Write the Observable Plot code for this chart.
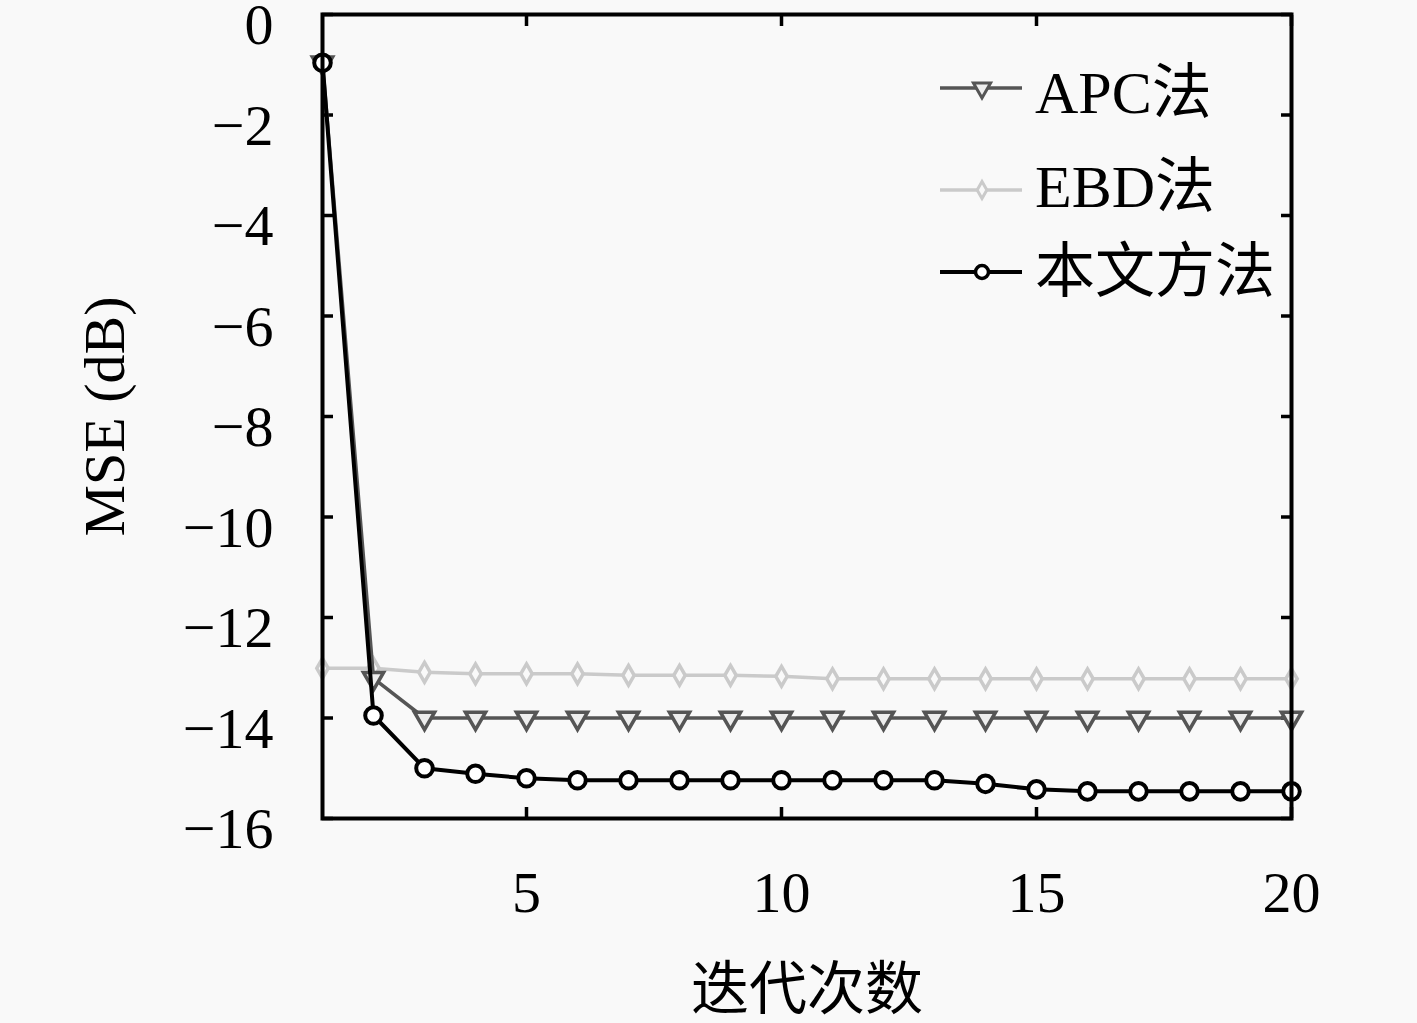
<!DOCTYPE html>
<html><head><meta charset="utf-8">
<script src="https://cdn.jsdelivr.net/npm/d3@7"></script>
<script src="https://cdn.jsdelivr.net/npm/@observablehq/plot@0.6"></script>
<style>
html,body{margin:0;padding:0;background:#f9f9f9;}
svg{display:block;}
</style></head><body><div id="chart"></div>
<script>
// ---- data ----
const iterations = [1,2,3,4,5,6,7,8,9,10,11,12,13,14,15,16,17,18,19,20];
const apc = [-0.96,-13.21,-14.0,-14.0,-14.0,-14.0,-14.0,-14.0,-14.0,-14.0,-14.0,-14.0,-14.0,-14.0,-14.0,-14.0,-14.0,-14.0,-14.0,-14.0];
const ebd = [-13.01,-13.01,-13.09,-13.12,-13.12,-13.12,-13.15,-13.15,-13.15,-13.17,-13.22,-13.22,-13.22,-13.22,-13.22,-13.22,-13.22,-13.22,-13.22,-13.22];
const proposed = [-0.96,-13.95,-15.0,-15.11,-15.2,-15.24,-15.24,-15.24,-15.24,-15.24,-15.24,-15.24,-15.24,-15.31,-15.42,-15.46,-15.46,-15.46,-15.46,-15.46];
const seriesNames = ["APC法","EBD法","本文方法"];
const xTicks = [5,10,15,20];
const yTicks = [0,-2,-4,-6,-8,-10,-12,-14,-16];
const xLabel = "迭代次数";
const yLabel = "MSE (dB)";

// ---- styles ----
const FONT = "'Liberation Serif','DejaVu Serif','Noto Sans CJK SC',serif";
const series = [
  {name: seriesNames[0], values: apc, stroke: "#555555", fill: "#eeeeee", symbol: "triangle", rotate: 180, r: 7.5, sw: 3.5},
  {name: seriesNames[1], values: ebd, stroke: "#cacaca", fill: "#f9f9f9", symbol: "diamond", rotate: 0, r: 6, sw: 3.5},
  {name: seriesNames[2], values: proposed, stroke: "#000000", fill: "#ffffff", symbol: "circle", rotate: 0, r: 8.3, sw: 4}
];
const drawOrder = [1, 0, 2];

const marks = [];
for (const i of drawOrder) {
  const s = series[i];
  marks.push(Plot.line(s.values, {x: (d, j) => iterations[j], y: d => d, stroke: s.stroke, strokeWidth: s.sw}));
  marks.push(Plot.dot(s.values, {x: (d, j) => iterations[j], y: d => d, symbol: s.symbol, rotate: s.rotate, r: s.r, stroke: s.stroke, fill: s.fill, strokeWidth: s.sw}));
}

const blank = () => "";
const fmt = d3.format("d");
const svg = Plot.plot({
  width: 1417,
  height: 1023,
  marginLeft: 322,
  marginRight: 126,
  marginTop: 14,
  marginBottom: 205,
  style: {background: "#f9f9f9", fontFamily: FONT, fontSize: "58px", color: "black", overflow: "visible"},
  x: {domain: [1, 20]},
  y: {domain: [-16, 0]},
  marks: [
    // inward ticks on all four sides
    Plot.axisY(yTicks, {anchor: "left", tickSize: 11, dx: 11, tickFormat: blank, label: null, strokeWidth: 3.5}),
    Plot.axisY(yTicks, {anchor: "right", tickSize: 11, dx: -11, tickFormat: blank, label: null, strokeWidth: 3.5}),
    Plot.axisX(xTicks, {anchor: "bottom", tickSize: 11, dy: -11, tickFormat: blank, label: null, strokeWidth: 3.5}),
    Plot.axisX(xTicks, {anchor: "top", tickSize: 11, dy: 11, tickFormat: blank, label: null, strokeWidth: 3.5}),
    // tick labels
    Plot.axisY(yTicks, {anchor: "left", tickSize: 0, tickPadding: 49, dy: 11, label: null, fontSize: 58, tickFormat: fmt}),
    Plot.axisX(xTicks, {anchor: "bottom", tickSize: 0, tickPadding: 52, label: null, fontSize: 58, tickFormat: fmt}),
    // axis titles
    Plot.text([xLabel], {frameAnchor: "bottom", lineAnchor: "middle", textAnchor: "middle", dy: 172, text: d => d, fontSize: 58}),
    Plot.text([yLabel], {frameAnchor: "left", lineAnchor: "middle", textAnchor: "middle", dx: -217, rotate: -90, text: d => d, fontSize: 58}),
    ...marks,
    Plot.frame({stroke: "black", strokeWidth: 4})
  ]
});

// ---- legend (inside top-right) ----
const legendRows = [
  {lineY: 88, textY: 113},
  {lineY: 190, textY: 207},
  {lineY: 272, textY: 292}
];
const symMap = {triangle: d3.symbolTriangle, diamond: d3.symbolDiamond, circle: d3.symbolCircle};
const lg = d3.select(svg).append("g").attr("font-family", FONT).attr("font-size", 60).attr("text-anchor", "start");
series.forEach((s, i) => {
  const row = legendRows[i];
  lg.append("line").attr("x1", 940).attr("x2", 1022).attr("y1", row.lineY).attr("y2", row.lineY)
    .attr("stroke", s.stroke).attr("stroke-width", s.sw);
  const lr = s.symbol === "circle" ? 6.5 : s.r * 0.85;
  lg.append("path").attr("d", d3.symbol(symMap[s.symbol], Math.PI * lr * lr)())
    .attr("transform", `translate(982,${row.lineY}) rotate(${s.rotate})`)
    .attr("stroke", s.stroke).attr("fill", s.fill).attr("stroke-width", s.sw - 0.5);
  lg.append("text").attr("x", 1035).attr("y", row.textY).attr("fill", "black").attr("text-anchor", "start").text(s.name);
});

document.getElementById("chart").appendChild(svg);
</script>
</body></html>
